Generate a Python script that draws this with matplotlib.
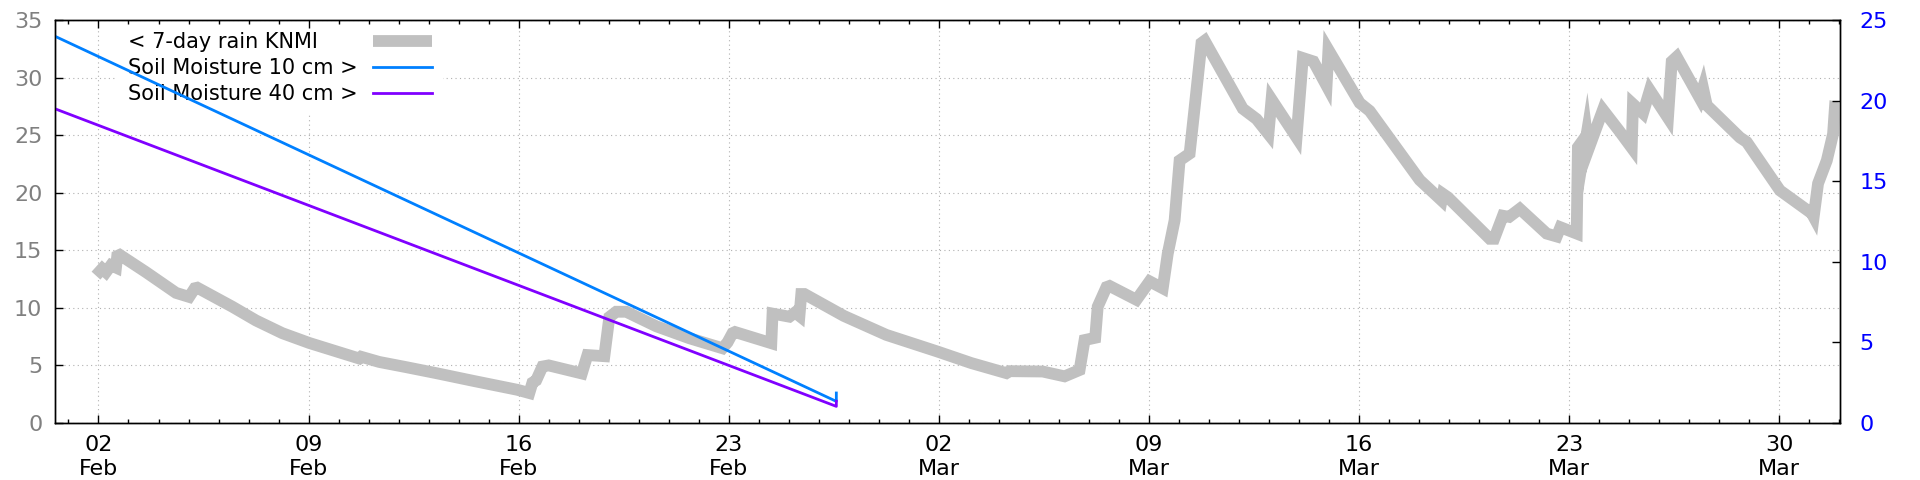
import matplotlib
matplotlib.use('Agg')
import matplotlib.pyplot as plt
import matplotlib.dates as mdates
import pandas as pd

# 7-day rain sum (KNMI), left axis
rain_time = ['2023-02-01 22:00', '2023-02-02 03:00', '2023-02-02 06:00', '2023-02-02 10:00',
             '2023-02-02 14:00', '2023-02-02 15:00', '2023-02-02 17:00', '2023-02-03 14:00',
             '2023-02-04 14:00', '2023-02-05 00:30', '2023-02-05 05:00', '2023-02-05 07:00',
             '2023-02-06 11:00', '2023-02-07 06:00', '2023-02-08 03:00', '2023-02-09 00:30',
             '2023-02-10 16:30', '2023-02-10 18:00', '2023-02-11 08:30', '2023-02-12 06:00',
             '2023-02-13 06:00', '2023-02-14 12:00', '2023-02-15 23:00',
             '2023-02-16 08:30', '2023-02-16 11:00', '2023-02-16 14:00', '2023-02-16 19:00',
             '2023-02-17 00:00', '2023-02-18 02:30', '2023-02-18 07:00', '2023-02-18 20:30',
             '2023-02-19 00:30', '2023-02-19 06:00', '2023-02-19 14:00', '2023-02-20 14:00',
             '2023-02-21 16:30',
             '2023-02-22 19:00', '2023-02-22 23:00', '2023-02-23 03:00', '2023-02-23 05:00',
             '2023-02-24 10:00', '2023-02-24 11:00', '2023-02-25 00:30', '2023-02-25 05:00',
             '2023-02-25 08:30', '2023-02-25 10:00', '2023-02-25 12:30', '2023-02-26 20:00',
             '2023-02-28 06:00', '2023-03-01 23:00', '2023-03-03 02:00',
             '2023-03-04 06:00', '2023-03-04 08:30', '2023-03-05 11:00',
             '2023-03-06 04:30', '2023-03-06 16:30', '2023-03-06 20:30', '2023-03-07 05:00',
             '2023-03-07 07:00', '2023-03-07 14:00', '2023-03-07 16:30', '2023-03-08 14:00',
             '2023-03-09 00:30', '2023-03-09 11:00', '2023-03-09 15:00', '2023-03-09 20:30',
             '2023-03-10 00:30', '2023-03-10 08:30', '2023-03-10 12:30', '2023-03-10 18:00',
             '2023-03-10 20:30', '2023-03-12 03:00', '2023-03-12 14:00', '2023-03-12 23:30',
             '2023-03-13 02:00', '2023-03-13 22:00', '2023-03-14 03:00', '2023-03-14 11:30',
             '2023-03-14 22:00', '2023-03-14 23:30', '2023-03-16 00:30', '2023-03-16 08:30',
             '2023-03-18 00:30', '2023-03-18 18:00', '2023-03-18 19:00', '2023-03-18 23:00',
             '2023-03-20 08:30', '2023-03-20 12:00', '2023-03-20 19:00', '2023-03-21 00:00',
             '2023-03-21 08:30', '2023-03-22 06:00', '2023-03-22 14:00', '2023-03-22 17:00',
             '2023-03-23 06:00', '2023-03-23 07:00', '2023-03-23 10:00', '2023-03-23 11:00',
             '2023-03-23 14:00', '2023-03-23 15:30', '2023-03-24 03:00', '2023-03-24 16:30',
             '2023-03-25 02:00', '2023-03-25 03:00', '2023-03-25 11:00', '2023-03-25 16:30',
             '2023-03-26 07:00', '2023-03-26 10:00', '2023-03-26 14:00', '2023-03-27 08:30',
             '2023-03-27 11:00', '2023-03-27 14:00', '2023-03-28 16:30', '2023-03-28 22:00',
             '2023-03-30 00:30', '2023-03-31 02:00', '2023-03-31 03:30', '2023-03-31 07:00',
             '2023-03-31 14:00', '2023-03-31 19:00', '2023-03-31 20:30', '2023-04-01 00:30']
rain_mm = [12.8, 13.4, 13.1, 13.7,
           13.5, 14.5, 14.6, 13.1,
           11.3, 10.95, 11.7, 11.75,
           10.1, 8.9, 7.8, 6.95,
           5.6, 5.75, 5.3, 4.85,
           4.33, 3.65, 2.88,
           2.6, 3.5, 3.7, 4.9,
           5.0, 4.3, 5.9, 5.8,
           9.2, 9.66, 9.66, 8.4,
           7.36,
           6.49, 7.0, 7.8, 7.9,
           6.93, 9.5, 9.23, 9.6,
           9.3, 11.2, 11.2, 9.3,
           7.65, 6.2, 5.2,
           4.33, 4.5, 4.47,
           4.05, 4.6, 7.2, 7.4,
           10.1, 11.8, 11.9, 10.7,
           12.3, 11.7, 14.7, 17.6,
           22.8, 23.4, 27.4, 33.0,
           33.2, 27.3, 26.4, 25.1,
           28.1, 24.8, 31.7, 31.4,
           29.3, 32.4, 27.8, 27.1,
           21.1, 19.33, 19.9, 19.6,
           16.0, 16.0, 18.0, 17.9,
           18.6, 16.45, 16.2, 17.0,
           16.45, 23.95, 24.4, 23.1,
           25.1, 23.8, 27.2, 25.3,
           23.9, 27.7, 26.9, 28.9,
           26.5, 31.4, 31.8, 28.2,
           29.1, 27.6, 24.8, 24.4,
           20.2, 18.2, 17.9, 20.8,
           22.8, 25.1, 27.4, 27.3]

# soil moisture, right axis
soil_time = ['2023-01-31 13:00', '2023-02-26 14:00', '2023-02-26 14:00']
soil_10cm = [24.0, 1.34, 1.86]
soil_40cm = [19.5, 1.03, 1.35]

rain_t = pd.to_datetime(rain_time)
soil_t = pd.to_datetime(soil_time)

fig = plt.figure(figsize=(19.2, 4.8), dpi=100)
ax = fig.add_axes([0.0286, 0.1188, 0.9297, 0.8395])
ax2 = ax.twinx()

rain_line, = ax.plot(rain_t, rain_mm, color='#c0c0c0', linewidth=8.5, zorder=3,
                     solid_joinstyle='miter', solid_capstyle='butt')
l10, = ax2.plot(soil_t, soil_10cm, color='#0080ff', linewidth=2.0)
l40, = ax2.plot(soil_t, soil_40cm, color='#8000ff', linewidth=2.0)

# axes ranges and ticks
ax.set_xlim(pd.Timestamp('2023-01-31 13:10'), pd.Timestamp('2023-04-01 00:30'))
ax.set_ylim(0, 35)
ax2.set_ylim(0, 25)
ax.set_yticks(range(0, 36, 5))
ax2.set_yticks(range(0, 26, 5))

ax.xaxis.set_major_locator(mdates.WeekdayLocator(byweekday=mdates.TH))
ax.xaxis.set_minor_locator(mdates.DayLocator())
ax.xaxis.set_major_formatter(mdates.DateFormatter('%d\n%b'))

ax.tick_params(axis='x', which='both', direction='in', top=False, labelsize=16, pad=9)
ax.tick_params(axis='x', which='major', length=6, width=1)
ax.tick_params(axis='x', which='minor', length=3, width=1)
ax.tick_params(axis='y', direction='in', length=6, width=1, labelcolor='#808080',
               labelsize=16, pad=9, right=False)
ax2.tick_params(axis='y', direction='in', length=6, width=1, labelcolor='#0000ff',
                labelsize=16, pad=14)

# top ticks from the twin so they stay above the legend box
ax2.xaxis.set_visible(True)
ax2.tick_params(axis='x', which='both', direction='in', top=True, bottom=False,
                labelbottom=False, labeltop=False)
ax2.tick_params(axis='x', which='major', length=6, width=1)
ax2.tick_params(axis='x', which='minor', length=3, width=1)

ax.grid(True, which='major', linestyle=(0, (1, 3)), color='#b0b0b0', linewidth=0.8)

for a in (ax, ax2):
    for s in a.spines.values():
        s.set_linewidth(1.0)

# legend: text left, sample right (gnuplot style)
leg = ax.legend([rain_line, l10, l40],
                ['< 7-day rain KNMI', 'Soil Moisture 10 cm >', 'Soil Moisture 40 cm >'],
                loc='upper left', bbox_to_anchor=(0.035, 0.995), markerfirst=False,
                fontsize=15, handlelength=2.85, handletextpad=0.75, labelspacing=0.28,
                borderpad=0.5, borderaxespad=0, fancybox=False)
leg.get_frame().set_facecolor('white')
leg.get_frame().set_edgecolor('none')
leg.get_frame().set_alpha(1)
leg.set_zorder(1.6)

# make texts left aligned and samples lined up
fig.canvas.draw()
r = fig.canvas.get_renderer()
widths = [t.get_window_extent(r).width for t in leg.get_texts()]
col = leg._legend_handle_box.get_children()[0]
col.align = 'left'
for row, w in zip(col.get_children(), widths):
    row.sep += (max(widths) - w) * 72 / fig.dpi

fig.savefig('out.png', dpi=100)
